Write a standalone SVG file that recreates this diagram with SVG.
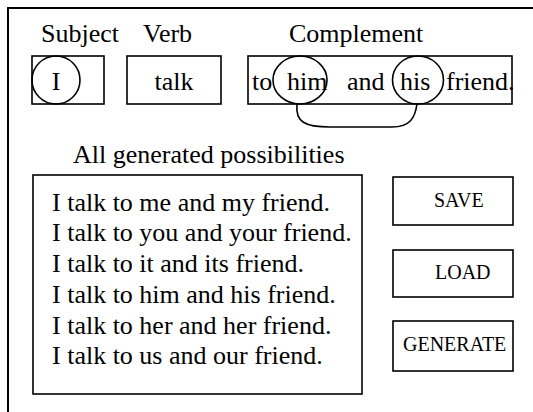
<svg xmlns="http://www.w3.org/2000/svg" width="533" height="412" viewBox="0 0 533 412">
<style>
.big{font-size:26px}
.btn{font-size:20px}
.box{fill:none;stroke:#000;stroke-width:1.6}
.ring{fill:none;stroke:#000;stroke-width:1.6}
</style>
<rect width="533" height="412" fill="#fff"/>
<path d="M8 412 V8 H533" fill="none" stroke="#000" stroke-width="2"/>
<g font-family="'Liberation Serif', 'Times New Roman', Tinos, 'DejaVu Serif', serif" fill="#000">
<g id="labels">
<text class="big" x="41" y="42">Subject</text>
<text class="big" x="143" y="42">Verb</text>
<text class="big" x="289" y="42">Complement</text>
<text class="big" x="73" y="163">All generated possibilities</text>
</g>
<g id="subject">
<rect class="box" x="32" y="56" width="72" height="48"/>
<text class="big" x="56" y="90" text-anchor="middle">I</text>
<ellipse class="ring" cx="56" cy="80" rx="24" ry="24"/>
</g>
<g id="verb">
<rect class="box" x="127" y="56" width="94" height="48"/>
<text class="big" x="174" y="90" text-anchor="middle">talk</text>
</g>
<g id="complement">
<rect class="box" x="248" y="56" width="264" height="48"/>
<text class="big" y="90"><tspan x="252">to</tspan><tspan x="287">him</tspan><tspan x="347">and</tspan><tspan x="400">his</tspan><tspan x="446">friend.</tspan></text>
<ellipse id="ring-him" class="ring" cx="300" cy="80" rx="27" ry="24"/>
<ellipse id="ring-his" class="ring" cx="418" cy="80" rx="25.5" ry="24"/>
</g>
<g id="connectors">
<path d="M297 104 C295 122 305 127 330 127 L392 127 C410 127 415 118 417 104" fill="none" stroke="#000" stroke-width="1.6"/>
</g>
<g id="possibilities">
<rect class="box" x="33" y="175" width="329" height="219"/>
<text class="big">
<tspan x="52" y="211">I talk to me and my friend.</tspan>
<tspan x="52" y="241">I talk to you and your friend.</tspan>
<tspan x="52" y="272">I talk to it and its friend.</tspan>
<tspan x="52" y="303">I talk to him and his friend.</tspan>
<tspan x="52" y="334">I talk to her and her friend.</tspan>
<tspan x="52" y="364">I talk to us and our friend.</tspan>
</text>
</g>
<g id="save">
<rect class="box" x="393" y="177" width="120" height="48"/>
<text class="btn" x="434" y="207">SAVE</text>
</g>
<g id="load">
<rect class="box" x="393" y="250" width="120" height="47"/>
<text class="btn" x="435" y="279">LOAD</text>
</g>
<g id="generate">
<rect class="box" x="393" y="321" width="120" height="50"/>
<text class="btn" x="403" y="351">GENERATE</text>
</g>
</g>
</svg>
